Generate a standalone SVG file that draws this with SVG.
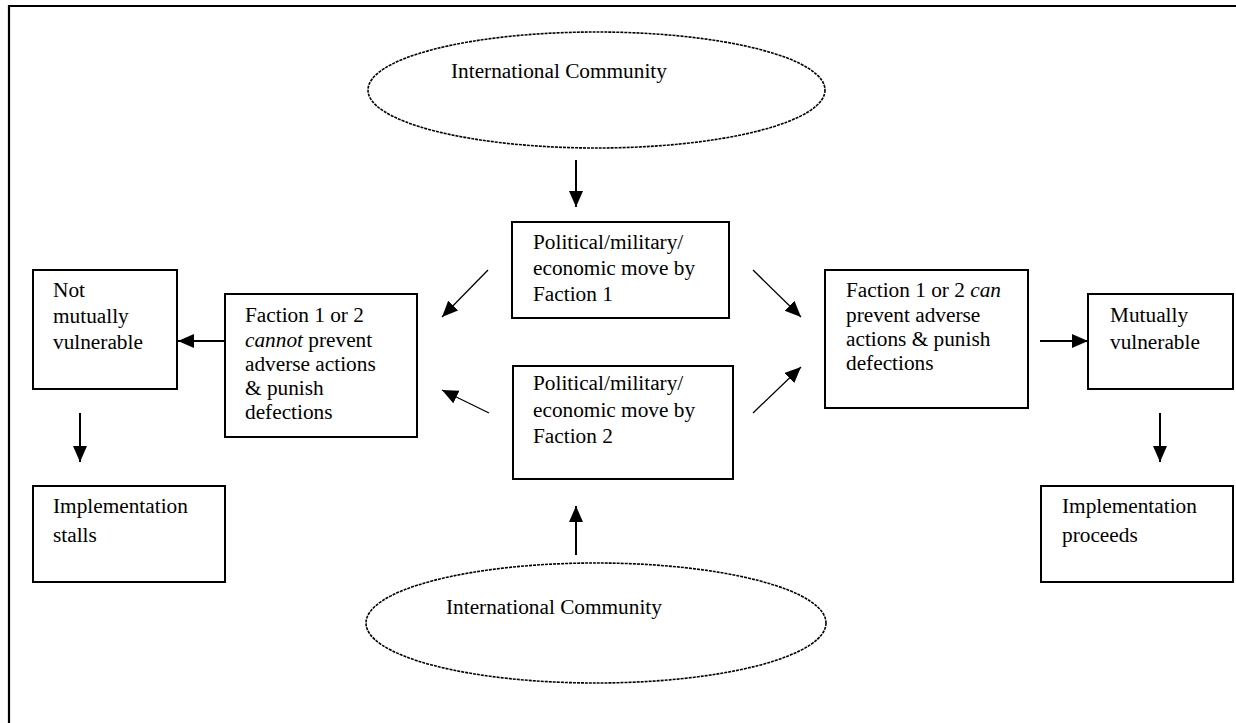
<svg xmlns="http://www.w3.org/2000/svg" width="1236" height="723" viewBox="0 0 1236 723">
<style>
  .box{fill:#fff;stroke:#000;stroke-width:2}
  .ell{fill:#fff;stroke:#000;stroke-width:1.6;stroke-dasharray:3 1}
  .t{font-family:"Liberation Serif","Times New Roman",serif;font-size:21.3px;fill:#000}
  .c{stroke:#000;fill:none;stroke-width:2;marker-end:url(#ah)}
  .d{stroke:#000;fill:none;stroke-width:1.3;marker-end:url(#ah)}
</style>
<defs>
  <marker id="ah" markerUnits="userSpaceOnUse" markerWidth="18" markerHeight="16" refX="16" refY="7" orient="auto">
    <path d="M0,0 L16,7 L0,14 Z" fill="#000"/>
  </marker>
</defs>
<rect width="1236" height="723" fill="#fff"/>
<path d="M9,730 V6 H1240" fill="none" stroke="#000" stroke-width="2.2"/>

<g id="ic-top">
  <ellipse class="ell" cx="596.5" cy="90" rx="228.5" ry="58"/>
  <text class="t" x="451" y="78">International Community</text>
</g>
<g id="ic-bottom">
  <ellipse class="ell" cx="596" cy="623" rx="230" ry="60"/>
  <text class="t" x="446" y="614">International Community</text>
</g>
<g id="move1">
  <rect class="box" x="512" y="222" width="217" height="96"/>
  <text class="t" x="533" y="249">Political/military/</text>
  <text class="t" x="533" y="275">economic move by</text>
  <text class="t" x="533" y="301">Faction 1</text>
</g>
<g id="move2">
  <rect class="box" x="513" y="366" width="220" height="113"/>
  <text class="t" x="533" y="390">Political/military/</text>
  <text class="t" x="533" y="416.5">economic move by</text>
  <text class="t" x="533" y="443">Faction 2</text>
</g>
<g id="cannot">
  <rect class="box" x="225" y="294" width="192" height="143"/>
  <text class="t" x="245" y="322">Faction 1 or 2</text>
  <text class="t" x="245" y="347"><tspan font-style="italic">cannot</tspan> prevent</text>
  <text class="t" x="245" y="371">adverse actions</text>
  <text class="t" x="245" y="395">&amp; punish</text>
  <text class="t" x="245" y="419">defections</text>
</g>
<g id="not-mutual">
  <rect class="box" x="33" y="270" width="144" height="119"/>
  <text class="t" x="53" y="297">Not</text>
  <text class="t" x="53" y="323">mutually</text>
  <text class="t" x="53" y="349">vulnerable</text>
</g>
<g id="stalls">
  <rect class="box" x="33" y="486" width="192" height="96"/>
  <text class="t" x="53" y="513">Implementation</text>
  <text class="t" x="53" y="542">stalls</text>
</g>
<g id="can">
  <rect class="box" x="825" y="270" width="203" height="138"/>
  <text class="t" x="846" y="297">Faction 1 or 2 <tspan font-style="italic">can</tspan></text>
  <text class="t" x="846" y="322">prevent adverse</text>
  <text class="t" x="846" y="346">actions &amp; punish</text>
  <text class="t" x="846" y="370">defections</text>
</g>
<g id="mutual">
  <rect class="box" x="1088" y="294" width="145" height="95"/>
  <text class="t" x="1110" y="322">Mutually</text>
  <text class="t" x="1110" y="349">vulnerable</text>
</g>
<g id="proceeds">
  <rect class="box" x="1041" y="486" width="192" height="96"/>
  <text class="t" x="1062" y="513">Implementation</text>
  <text class="t" x="1062" y="542">proceeds</text>
</g>

<g id="connectors">
  <line class="c" x1="576" y1="160" x2="576" y2="207"/>
  <line class="c" x1="576" y1="555" x2="576" y2="506"/>
  <line class="c" x1="224" y1="341" x2="178" y2="341"/>
  <line class="c" x1="1040" y1="341" x2="1088" y2="341"/>
  <line class="c" x1="80" y1="413" x2="80" y2="462"/>
  <line class="c" x1="1160" y1="413" x2="1160" y2="462"/>
  <line class="d" x1="488" y1="270" x2="442" y2="317"/>
  <line class="d" x1="489" y1="413" x2="442" y2="390"/>
  <line class="d" x1="753" y1="270" x2="801" y2="317"/>
  <line class="d" x1="753" y1="413" x2="801" y2="367"/>
</g>
</svg>
